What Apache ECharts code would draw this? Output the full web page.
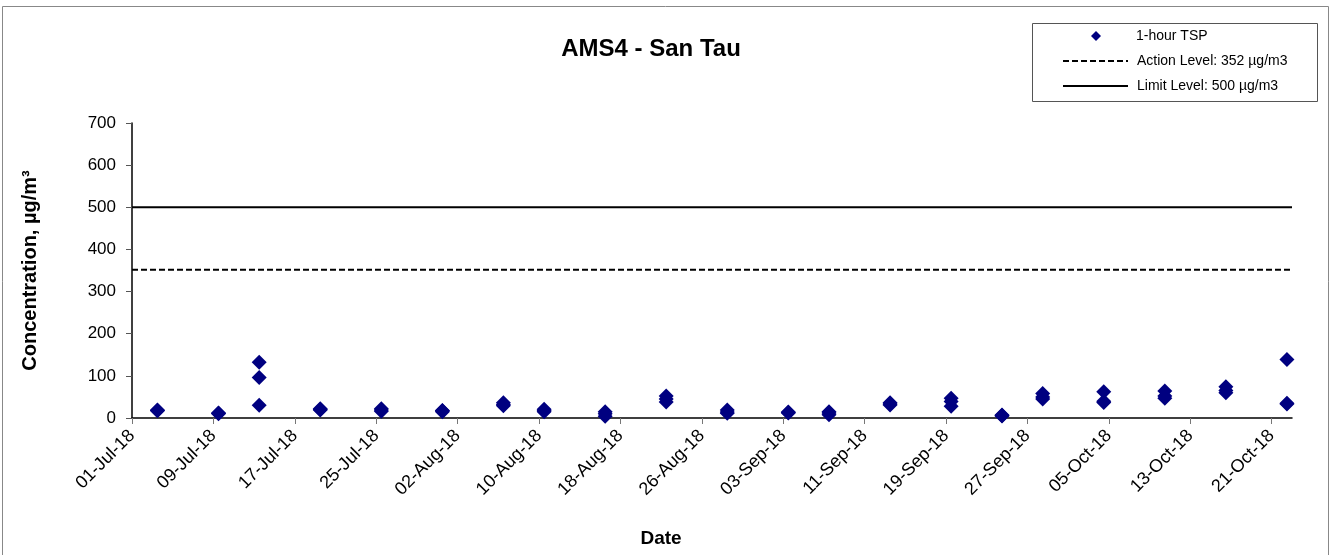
<!DOCTYPE html>
<html>
<head>
<meta charset="utf-8">
<script src="https://cdn.jsdelivr.net/npm/echarts@6/dist/echarts.min.js"></script>
<style>
html,body{margin:0;padding:0;background:#fff;}
#c{width:1330px;height:555px;}
</style>
</head>
<body>
<div id="c"></div>
<script>
// ---- data ----
var sampleDates = ['2018-07-03T12:00','2018-07-09T12:00','2018-07-13T12:00','2018-07-19T12:00','2018-07-25T12:00',
  '2018-07-31T12:00','2018-08-06T12:00','2018-08-10T12:00','2018-08-16T12:00','2018-08-22T12:00',
  '2018-08-28T12:00','2018-09-03T12:00','2018-09-07T12:00','2018-09-13T12:00','2018-09-19T12:00',
  '2018-09-24T12:00','2018-09-28T12:00','2018-10-04T12:00','2018-10-10T12:00','2018-10-16T12:00','2018-10-22T12:00'];
var tspRun1 = [18, 11, 132, 22, 22, 18, 36, 21, 15, 52, 19, 14, 15, 36, 47, 6, 58, 62, 64, 74, 139];
var tspRun2 = [17, 10, 96, 19, 16, 15, 29, 15, 4, 38, 11, 12, 8, 31, 39, 5, 45, 37, 47, 60, 33];
var tspRun3 = [19, 12, 30, 20, 19, 17, 32, 18, 10, 45, 14, 13, 12, 33, 28, 7, 50, 40, 52, 65, 35];
var actionLevel = 352;
var limitLevel = 500;
var axisStartDate = '2018-07-01';
var axisEndDate = '2018-10-23';
var xTickDates = ['01-Jul-18','09-Jul-18','17-Jul-18','25-Jul-18','02-Aug-18','10-Aug-18','18-Aug-18','26-Aug-18',
  '03-Sep-18','11-Sep-18','19-Sep-18','27-Sep-18','05-Oct-18','13-Oct-18','21-Oct-18'];
var yTicks = [0, 100, 200, 300, 400, 500, 600, 700];
var seriesNames = ['1-hour TSP', 'Action Level: 352 µg/m3', 'Limit Level: 500 µg/m3'];

// ---- helpers ----
var DAY = 86400000;
var t0 = Date.parse(axisStartDate + 'T00:00Z');
function dayOffset(s){ return (Date.parse(s + (s.length === 10 ? 'T00:00Z' : 'Z')) - t0) / DAY; }
var xMax = dayOffset(axisEndDate);
var tickValues = xTickDates.map(function(_, i){ return i * 8; });

var points = [];
sampleDates.forEach(function(d, i){
  var x = dayOffset(d);
  points.push([x, tspRun1[i]]);
  points.push([x, tspRun2[i]]);
  points.push([x, tspRun3[i]]);
});

var FONT = '"Liberation Sans", Arial, sans-serif';
var chart = echarts.init(document.getElementById('c'), null, {renderer: 'canvas'});
chart.setOption({
  backgroundColor: '#fff',
  animation: false,
  textStyle: {fontFamily: FONT},
  title: {
    text: 'AMS4 - San Tau',
    left: 646, top: 32, textAlign: 'center',
    textStyle: {fontFamily: FONT, fontSize: 24, fontWeight: 'bold', color: '#000'}
  },
  legend: [{
    orient: 'vertical',
    left: 1091, top: 29, padding: 0,
    itemWidth: 10, itemHeight: 10,
    textStyle: {fontFamily: FONT, fontSize: 14, color: '#000', padding: [0, 0, 0, 30]},
    data: [{name: seriesNames[0], icon: 'diamond'}]
  }, {
    orient: 'vertical',
    left: 1062, top: 54, padding: 0,
    itemWidth: 65, itemHeight: 10, itemGap: 11,
    textStyle: {fontFamily: FONT, fontSize: 14, color: '#000', padding: [0, 0, 0, 4]},
    data: [
      {name: seriesNames[1], itemStyle: {opacity: 0}},
      {name: seriesNames[2], itemStyle: {opacity: 0}}
    ]
  }],
  graphic: [{
    type: 'rect', silent: true, z: -1,
    shape: {x: 2.5, y: 6.5, width: 1326, height: 560},
    style: {fill: null, stroke: '#888', lineWidth: 1}
  }, {
    type: 'rect', silent: true, z: -1,
    shape: {x: 1032.5, y: 23.5, width: 285, height: 78},
    style: {fill: '#fff', stroke: '#555', lineWidth: 1}
  }],
  grid: {left: 132, right: 38, top: 123, bottom: 137, containLabel: false},
  xAxis: {
    type: 'value', min: 0, max: xMax,
    name: 'Date', nameLocation: 'middle', nameGap: 111,
    nameTextStyle: {fontFamily: FONT, fontSize: 19, fontWeight: 'bold', color: '#000', padding: [0, 102, 0, 0]},
    axisLine: {show: true, onZero: false, lineStyle: {color: '#000', width: 1.5}},
    axisTick: {show: true, customValues: tickValues, length: 6, lineStyle: {color: '#777'}},
    axisLabel: {
      customValues: tickValues,
      rotate: 45, margin: 15,
      fontFamily: FONT, fontSize: 18, color: '#000',
      formatter: function(v){ var k = Math.round(v / 8); return xTickDates[k] || ''; }
    },
    splitLine: {show: false}
  },
  yAxis: {
    type: 'value', min: yTicks[0], max: yTicks[yTicks.length - 1], interval: 100,
    name: 'Concentration, µg/m³', nameLocation: 'middle', nameGap: 92,
    nameTextStyle: {fontFamily: FONT, fontSize: 20, fontWeight: 'bold', color: '#000'},
    axisLine: {show: true, lineStyle: {color: '#000', width: 1.5}},
    axisTick: {show: true, length: 6, lineStyle: {color: '#555'}},
    axisLabel: {fontFamily: FONT, fontSize: 17, color: '#000', margin: 16},
    splitLine: {show: false}
  },
  series: [
    {
      name: seriesNames[0], type: 'scatter',
      symbol: 'diamond', symbolSize: 15,
      itemStyle: {color: '#000080', opacity: 1},
      data: points, z: 5
    },
    {
      name: seriesNames[1], type: 'line', symbol: 'none',
      itemStyle: {color: '#000'},
      lineStyle: {color: '#000', width: 2, type: [6, 3]},
      data: [[0, actionLevel], [xMax, actionLevel]]
    },
    {
      name: seriesNames[2], type: 'line', symbol: 'none',
      itemStyle: {color: '#000'},
      lineStyle: {color: '#000', width: 2},
      data: [[0, limitLevel], [xMax, limitLevel]]
    }
  ]
});
</script>
</body>
</html>
